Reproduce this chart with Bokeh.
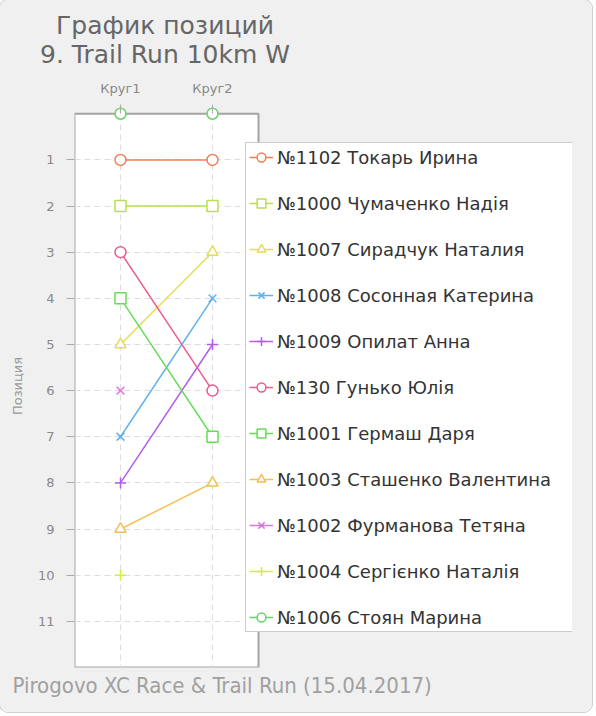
import math
from bokeh.plotting import figure
from bokeh.layouts import column
from bokeh.models import (Range1d, FixedTicker, Legend, LegendItem, Title, ColumnDataSource,
                          BoxAnnotation, Div)
from bokeh.embed import file_html
from bokeh.resources import INLINE

title_lines = ["График позиций", "9. Trail Run 10km W"]
footer = "Pirogovo XC Race & Trail Run (15.04.2017)"
laps = ["Круг1", "Круг2"]
lap_x = [0.5, 1.5]          # category centres on the lap axis (0..2)
names = [
    "№1102 Токарь Ирина",
    "№1000 Чумаченко Надія",
    "№1007 Сирадчук Наталия",
    "№1008 Сосонная Катерина",
    "№1009 Опилат Анна",
    "№130 Гунько Юлія",
    "№1001 Гермаш Даря",
    "№1003 Сташенко Валентина",
    "№1002 Фурманова Тетяна",
    "№1004 Сергієнко Наталія",
    "№1006 Стоян Марина",
]
pos_lap1 = [1, 2, 5, 7, 8, 3, 4, 9, 6, 10, 0]
pos_lap2 = [1, 2, 3, 4, 5, 6, 7, 8, 0, 0, 0]
colors = ["#ef7f58", "#b8e04e", "#e6dc55", "#5fb2ee", "#b45cef", "#ee5a8c",
          "#66dd55", "#f0c050", "#e670dc", "#d6ee3c", "#66d466"]
markers = ["circle", "square", "triangle", "x", "cross", "circle", "square",
           "triangle", "x", "cross", "circle"]
y_ticks = list(range(1, 12))
y_max = 12

# layout (pixels)
W, H = 592, 712
head_h = 70
left, top, right, bottom = 74, 104, 572, 667
box_w = 184
x_end = 2 * (right - left) / box_w

p = figure(width=W, height=H - head_h, x_range=Range1d(0, x_end), y_range=Range1d(y_max, -0.2),
           x_axis_location="above", output_backend="svg", toolbar_location=None,
           min_border_left=left, min_border_right=W - right, min_border_top=top - head_h,
           min_border_bottom=H - bottom)

p.background_fill_color = "#f0f0f0"
p.border_fill_color = "#f0f0f0"
p.outline_line_color = None

p.add_layout(BoxAnnotation(left=0, right=len(laps), top=0, bottom=y_max, fill_color="white",
                           fill_alpha=1, line_color="#a4a4a4", line_alpha=1, line_width=2,
                           level="image"))

for ax in (p.xaxis, p.yaxis):
    ax.axis_line_color = None
    ax.major_tick_line_color = "#aaaaaa"
    ax.minor_tick_line_color = None
    ax.major_label_text_font = "DejaVu Sans"
    ax.major_label_text_font_size = "13px"
    ax.major_label_text_color = "#888888"

p.xaxis.ticker = FixedTicker(ticks=lap_x)
p.xaxis.major_label_overrides = dict(zip(lap_x, laps))
p.xaxis.major_tick_out = 0
p.xaxis.major_tick_in = 9
p.xaxis.major_label_standoff = 9

p.yaxis.ticker = FixedTicker(ticks=y_ticks)
p.yaxis.major_tick_out = 8
p.yaxis.major_tick_in = 0
p.yaxis.major_label_standoff = 12
p.yaxis.major_label_text_color = "#888888"
p.yaxis.axis_label = "Позиция"
p.yaxis.axis_label_text_font = "DejaVu Sans"
p.yaxis.axis_label_text_font_style = "normal"
p.yaxis.axis_label_text_font_size = "13px"
p.yaxis.axis_label_text_color = "#999999"
p.yaxis.axis_label_standoff = 10

for g in (p.xgrid, p.ygrid):
    g.grid_line_color = "#dddddd"
    g.grid_line_dash = "6 4"
    g.grid_line_width = 1

items = []
for i, name in enumerate(names):
    ys = [pos_lap1[i], pos_lap2[i]]
    yl = [v if v > 0 else math.nan for v in ys]
    src = ColumnDataSource(dict(x=lap_x, y=ys, yl=yl))
    ln = p.line("x", "yl", source=src, line_color=colors[i], line_width=1.5)
    sc = p.scatter("x", "y", source=src, marker=markers[i], size=11, fill_color="white",
                   line_color=colors[i], line_width=1.5)
    items.append(LegendItem(label=name, renderers=[ln, sc]))

legend = Legend(items=items, location=(171, 35), margin=0, padding=3,
                glyph_width=24, glyph_height=22, label_height=22, label_width=293,
                spacing=24, label_standoff=4,
                border_line_color="#999999", border_line_width=1,
                background_fill_color="white", background_fill_alpha=1.0,
                label_text_font="DejaVu Sans", label_text_font_size="18px",
                label_text_color="#333333")
p.add_layout(legend)

p.add_layout(Title(text=footer, align="left", offset=-62,
                   text_font="DejaVu Sans Condensed", text_font_size="22px",
                   text_font_style="normal", text_color="#a0a0a0", standoff=6), "below")

head_html = ('<div style="width:330px;text-align:center;font-family:\'DejaVu Sans\';'
             'font-size:25px;line-height:29px;color:#666666;padding-top:11px;margin:0;">'
             + "<br>".join(title_lines) + "</div>")
head = Div(text=head_html, width=W, height=head_h, margin=0,
           styles={"background-color": "#f0f0f0"})

layout = column(head, p, spacing=0,
                styles={"background-color": "#f0f0f0", "border-radius": "8px",
                        "box-shadow": "0 0 0 1px #cfcfcf", "overflow": "hidden"})

open("out.html", "w").write(file_html(layout, INLINE))
